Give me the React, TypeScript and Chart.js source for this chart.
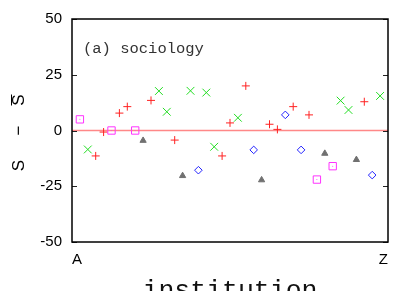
import React, { useEffect, useRef } from "react";
import { Chart, registerables } from "chart.js";

Chart.register(...registerables);

// ---- data ----
const xTickLabels = ["A", "Z"];
const xRange = [0, 40];
const yTicks = [-50, -25, 0, 25, 50];
const panelLabel = "(a) sociology";
const xTitle = "institution";

const squareX = [1, 5, 8, 31, 33];
const squareY = [5, 0, 0, -22, -16];
const greenX = [2, 11, 12, 15, 17, 18, 21, 34, 35, 39];
const greenY = [-8.5, 17.7, 8.4, 17.8, 17, -7.3, 5.7, 13.4, 9.2, 15.5];
const redX = [3, 4, 6, 7, 10, 13, 19, 20, 22, 25, 26, 28, 30, 37];
const redY = [-11.4, -0.7, 7.8, 10.7, 13.5, -4.3, -11.4, 3.4, 20, 2.8, 0.5, 10.7, 7, 12.9];
const blueX = [16, 23, 27, 29, 38];
const blueY = [-17.8, -8.7, 7, -8.7, -20];
const grayX = [9, 14, 24, 32, 36];
const grayY = [-4.5, -20.3, -22.2, -10.3, -13.1];
const zeroLineY = [0, 0];

const pts = (xs: number[], ys: number[]) => xs.map((x, i) => ({ x, y: ys[i] }));

const framePlugin = {
  id: "frame",
  afterDraw(chart: any) {
    const { ctx, chartArea: a, scales } = chart;
    ctx.save();
    // inward y ticks
    ctx.strokeStyle = "#222";
    ctx.lineWidth = 1;
    for (const v of yTicks) {
      const y = Math.round(scales.y.getPixelForValue(v)) + 0.5;
      ctx.beginPath();
      ctx.moveTo(a.left, y);
      ctx.lineTo(a.left + 5, y);
      ctx.moveTo(a.right, y);
      ctx.lineTo(a.right - 5, y);
      ctx.stroke();
    }
    // frame
    ctx.strokeStyle = "#000";
    ctx.lineWidth = 1.5;
    ctx.strokeRect(a.left, a.top, a.right - a.left, a.bottom - a.top);

    // panel label
    ctx.fillStyle = "#333";
    ctx.font = "15.5px 'Liberation Mono', monospace";
    ctx.textAlign = "left";
    ctx.textBaseline = "alphabetic";
    ctx.fillText(panelLabel, a.left + 11, 53);

    // x title
    ctx.fillStyle = "#111";
    ctx.font = "26.5px 'Liberation Mono', monospace";
    ctx.textAlign = "center";
    ctx.fillText(xTitle, (a.left + a.right) / 2, 298);

    // y title: S − S̄ (rotated)
    const cy = (a.top + a.bottom) / 2;
    ctx.translate(19, cy);
    ctx.rotate(-Math.PI / 2);
    ctx.fillStyle = "#000";
    ctx.strokeStyle = "#000";
    ctx.font = "17px 'Liberation Sans', Arial, sans-serif";
    ctx.textAlign = "center";
    ctx.textBaseline = "middle";
    ctx.fillText("S", -35, 0);
    ctx.fillText("\u2212", 0, 0);
    ctx.fillText("S", 30.5, 0);
    ctx.lineWidth = 1;
    ctx.beginPath();
    ctx.moveTo(25, -7.5);
    ctx.lineTo(36, -7.5);
    ctx.stroke();
    ctx.restore();
  },
};

export default function App() {
  const ref = useRef<HTMLCanvasElement | null>(null);
  useEffect(() => {
    document.body.style.margin = "0";
    const canvas = ref.current!;
    const chart = new Chart(canvas, {
      type: "scatter",
      data: {
        datasets: [
          {
            type: "line",
            data: pts(xRange, zeroLineY),
            borderColor: "#ff8888",
            borderWidth: 1.5,
            pointRadius: 0,
            order: 10,
          } as any,
          {
            data: pts(squareX, squareY),
            pointStyle: "rect",
            pointRadius: 5.2,
            borderColor: "#ff33ff",
            backgroundColor: "transparent",
            borderWidth: 1,
          },
          {
            data: pts(squareX, squareY),
            pointStyle: "circle",
            pointRadius: 0.5,
            borderColor: "#ff33ff",
            backgroundColor: "#ff33ff",
            borderWidth: 0,
          },
          {
            data: pts(greenX, greenY),
            pointStyle: "crossRot",
            pointRadius: 5.5,
            borderColor: "#22dd22",
            borderWidth: 1,
          },
          {
            data: pts(redX, redY),
            pointStyle: "cross",
            pointRadius: 4,
            borderColor: "#ff2222",
            borderWidth: 1,
          },
          {
            data: pts(blueX, blueY),
            pointStyle: "rectRot",
            pointRadius: 3.8,
            borderColor: "#2222ff",
            backgroundColor: "transparent",
            borderWidth: 1,
          },
          {
            data: pts(grayX, grayY),
            pointStyle: "triangle",
            pointRadius: 3.6,
            borderColor: "#707070",
            backgroundColor: "#707070",
            borderWidth: 1,
          },
        ],
      },
      options: {
        animation: false,
        responsive: false,
        maintainAspectRatio: false,
        layout: { padding: { top: 19, right: 27, left: 0, bottom: 0 } },
        plugins: { legend: { display: false }, tooltip: { enabled: false } },
        scales: {
          x: {
            type: "linear",
            min: xRange[0],
            max: xRange[1],
            grid: { display: false, drawTicks: false },
            border: { display: false },
            afterBuildTicks: (s: any) => {
              s.ticks = xRange.map((v) => ({ value: v }));
            },
            afterFit: (s: any) => {
              s.height = 49;
            },
            ticks: {
              align: "inner",
              padding: 9,
              color: "#000",
              font: { family: "'Liberation Sans', Arial, sans-serif", size: 15 },
              callback: (v: any) => xTickLabels[xRange.indexOf(Number(v))] ?? "",
              maxRotation: 0,
            },
          },
          y: {
            min: -50,
            max: 50,
            grid: { display: false, drawTicks: false },
            border: { display: false },
            afterBuildTicks: (s: any) => {
              s.ticks = yTicks.map((v) => ({ value: v }));
            },
            afterFit: (s: any) => {
              s.width = 72;
            },
            ticks: {
              padding: 10,
              color: "#000",
              font: { family: "'Liberation Sans', Arial, sans-serif", size: 15 },
            },
          },
        },
      },
      plugins: [framePlugin],
    });
    return () => chart.destroy();
  }, []);
  return (
    <div style={{ position: "absolute", left: 0, top: 0, width: 415, height: 291 }}>
      <canvas ref={ref} width={415} height={291} style={{ display: "block" }} />
    </div>
  );
}
